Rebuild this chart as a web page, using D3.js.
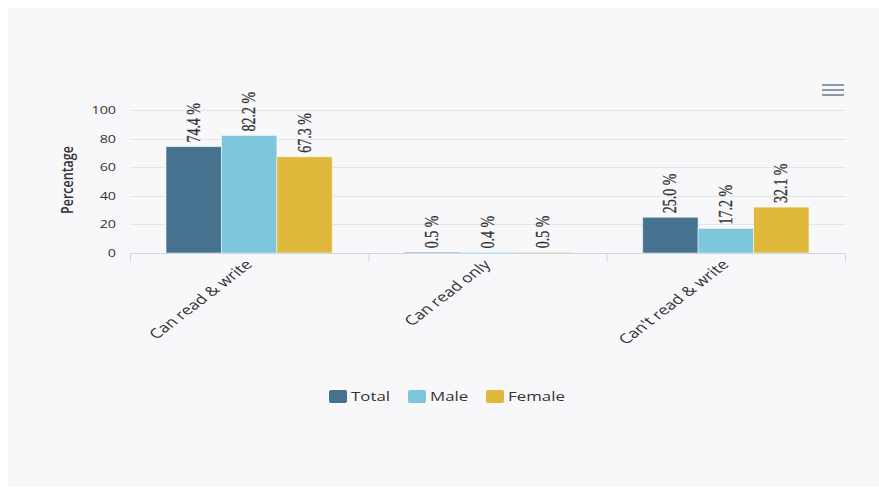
<!DOCTYPE html>
<html>
<head>
<meta charset="utf-8">
<script src="https://cdn.jsdelivr.net/npm/d3@7"></script>
<style>
  body { margin: 0; background: #fff; }
</style>
</head>
<body>
<script>
// chart data
var categories = ["Can read & write", "Can read only", "Can't read & write"];
var seriesNames = ["Total", "Male", "Female"];
var totalValues = [74.4, 0.5, 25.0];
var maleValues = [82.2, 0.4, 17.2];
var femaleValues = [67.3, 0.5, 32.1];
var yTicks = [0, 20, 40, 60, 80, 100];
var colors = ["#46728f", "#7ec6dc", "#e0b83b"];

var width = 879, height = 490;
// the reference looks stretched sideways, so texts get a horizontal scale
var sx = 1.3;
var font = "Open Sans, sans-serif";

var svg = d3.select("body")
    .append("svg")
    .attr("width", width)
    .attr("height", height);

// panel background
svg.append("rect")
    .attr("x", 8).attr("y", 8)
    .attr("width", width - 8).attr("height", 479)
    .attr("fill", "#f8f8fb");

var plotLeft = 130, plotRight = 845, plotTop = 110, plotBottom = 253;

var x = d3.scaleBand().domain(categories).range([plotLeft, plotRight]);
var xInner = d3.scaleBand().domain(seriesNames)
    .range([0, x.bandwidth()]).paddingOuter(0.65);
var y = d3.scaleLinear().domain([0, 100]).range([plotBottom, plotTop]);

// grid
svg.append("g").selectAll("line")
    .data(yTicks)
    .enter().append("line")
    .attr("x1", plotLeft).attr("x2", plotRight)
    .attr("y1", function(d){ return Math.round(y(d)) + 0.5; })
    .attr("y2", function(d){ return Math.round(y(d)) + 0.5; })
    .attr("stroke", "#e6e6e6");

// y axis labels
svg.append("g").selectAll("text")
    .data(yTicks)
    .enter().append("text")
    .attr("transform", function(d){
        return "translate(116," + (y(d) + 4) + ") scale(" + sx + ",1)";
    })
    .attr("text-anchor", "end")
    .attr("font-family", font)
    .attr("font-size", 11)
    .attr("fill", "#333")
    .text(function(d){ return d; });

svg.append("text")
    .attr("transform", "translate(73,180) scale(" + sx + ",1) rotate(-90)")
    .attr("text-anchor", "middle")
    .attr("font-family", font)
    .attr("font-size", 12.5)
    .attr("font-weight", 600)
    .attr("fill", "#333")
    .text("Percentage");

// bars
var rows = categories.map(function(c, i){
    return [totalValues[i], maleValues[i], femaleValues[i]].map(function(v, j){
        return {cat: c, name: seriesNames[j], value: v, color: colors[j]};
    });
});

var groups = svg.append("g").selectAll("g")
    .data(rows)
    .enter().append("g")
    .attr("transform", function(d, i){ return "translate(" + x(categories[i]) + ",0)"; });

groups.selectAll("rect")
    .data(function(d){ return d; })
    .enter().append("rect")
    .attr("x", function(d){ return xInner(d.name); })
    .attr("y", function(d){ return y(d.value); })
    .attr("width", xInner.bandwidth())
    .attr("height", function(d){ return plotBottom - y(d.value); })
    .attr("fill", function(d){ return d.color; })
    .attr("stroke", "#fff")
    .attr("stroke-opacity", 0.5)
    .attr("stroke-width", 1);

groups.selectAll("text")
    .data(function(d){ return d; })
    .enter().append("text")
    .attr("transform", function(d){
        var cx = xInner(d.name) + xInner.bandwidth() / 2 + 6;
        return "translate(" + cx + "," + (y(d.value) - 4) + ") scale(" + sx + ",1) rotate(-90)";
    })
    .attr("font-family", "Liberation Serif, serif")
    .attr("font-size", 14)
    .attr("stroke", "#333")
    .attr("stroke-width", 0.25)
    .attr("fill", "#333")
    .text(function(d){ return d.value.toFixed(1) + " %"; });

// x axis
var xAxis = svg.append("g")
    .attr("transform", "translate(0," + (plotBottom + 0.5) + ")");
xAxis.append("line")
    .attr("x1", plotLeft).attr("x2", plotRight)
    .attr("stroke", "#ccd6eb");
xAxis.selectAll("line.tick")
    .data(categories.concat([null]))
    .enter().append("line")
    .attr("class", "tick")
    .attr("x1", function(d, i){ return plotLeft + i * x.bandwidth() + 0.5; })
    .attr("x2", function(d, i){ return plotLeft + i * x.bandwidth() + 0.5; })
    .attr("y1", 0).attr("y2", 8)
    .attr("stroke", "#ccd6eb");

xAxis.selectAll("text")
    .data(categories)
    .enter().append("text")
    .attr("transform", function(d){
        return "translate(" + (x(d) + x.bandwidth() / 2 + 4) + ",12) scale(" + sx + ",1) rotate(-45)";
    })
    .attr("text-anchor", "end")
    .attr("font-family", font)
    .attr("font-size", 13.5)
    .attr("fill", "#333")
    .text(function(d){ return d; });

// legend
var legend = svg.append("g");
var legendX = [329, 408, 486];
seriesNames.forEach(function(n, i){
    legend.append("rect")
        .attr("x", legendX[i]).attr("y", 390)
        .attr("width", 18).attr("height", 13)
        .attr("rx", 2)
        .attr("fill", colors[i]);
    legend.append("text")
        .attr("transform", "translate(" + (legendX[i] + 22) + ",401) scale(" + sx + ",1)")
        .attr("font-family", font)
        .attr("font-size", 13)
        .attr("fill", "#333")
        .text(n);
});

// menu icon
svg.append("g").selectAll("line")
    .data([85, 90, 95])
    .enter().append("line")
    .attr("x1", 822).attr("x2", 844)
    .attr("y1", function(d){ return d; })
    .attr("y2", function(d){ return d; })
    .attr("stroke", "#667a8f")
    .attr("stroke-width", 1.5);
</script>
</body>
</html>
